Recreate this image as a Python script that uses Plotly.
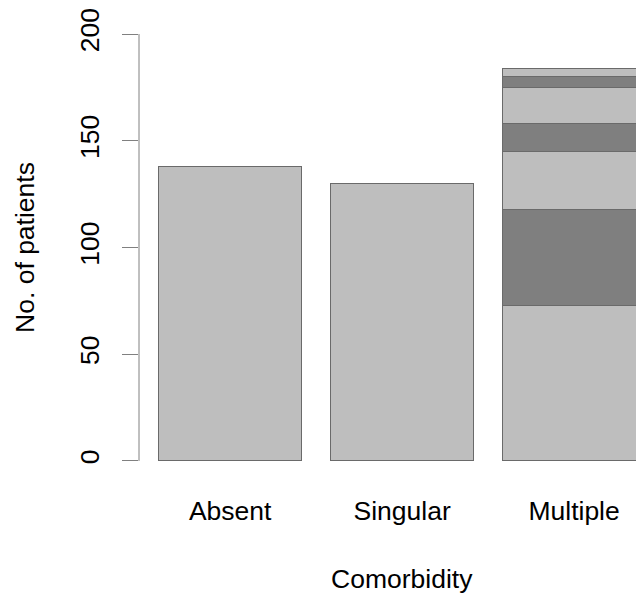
import plotly.graph_objects as go

categories = ["Absent", "Singular", "Multiple"]
seg1 = [138, 130, 73]
seg2 = [None, None, 45]
seg3 = [None, None, 27]
seg4 = [None, None, 13]
seg5 = [None, None, 17]
seg6 = [None, None, 5]
seg7 = [None, None, 4]
y_ticks = [0, 50, 100, 150, 200]

segments = [seg1, seg2, seg3, seg4, seg5, seg6, seg7]
colors = ["#BEBEBE", "#7F7F7F"]

FONT = "Liberation Sans, Arial, sans-serif"
FS = 26.5

fig = go.Figure()
for i, seg in enumerate(segments):
    fig.add_trace(go.Bar(
        x=categories, y=seg,
        marker=dict(color=colors[i % 2], line=dict(color="#6a6a6a", width=1)),
        showlegend=False,
    ))

fig.update_layout(
    width=628, height=595,
    barmode="stack", bargap=1 - 1 / 1.2,
    plot_bgcolor="white", paper_bgcolor="white",
    margin=dict(l=131, r=0, t=0, b=125),
    font=dict(family=FONT, size=FS, color="#000000"),
    xaxis=dict(
        range=[-0.53, 2.36], showline=False, showgrid=False, zeroline=False,
        ticks="", tickfont=dict(size=FS), ticklabelstandoff=14,
    ),
    yaxis=dict(
        range=[-8, 208], showline=False, showgrid=False, zeroline=False,
        tickvals=y_ticks, ticktext=[str(v) for v in y_ticks],
        ticks="outside", ticklen=16, tickcolor="#808080", tickwidth=1,
        tickangle=-90, tickfont=dict(size=FS), ticklabelstandoff=12,
        ticklabeloverflow="allow",
        title=dict(text="No. of patients", font=dict(size=FS), standoff=33),
    ),
    shapes=[dict(type="line", xref="paper", yref="y", x0=0, x1=0,
                 y0=y_ticks[0], y1=y_ticks[-1],
                 line=dict(color="#808080", width=1))],
    annotations=[dict(text="Comorbidity", xref="paper", yref="paper",
                      x=0.529, y=0, yshift=-101, xanchor="center", yanchor="middle",
                      showarrow=False, font=dict(size=FS))],
)

fig.write_html("out.html")
